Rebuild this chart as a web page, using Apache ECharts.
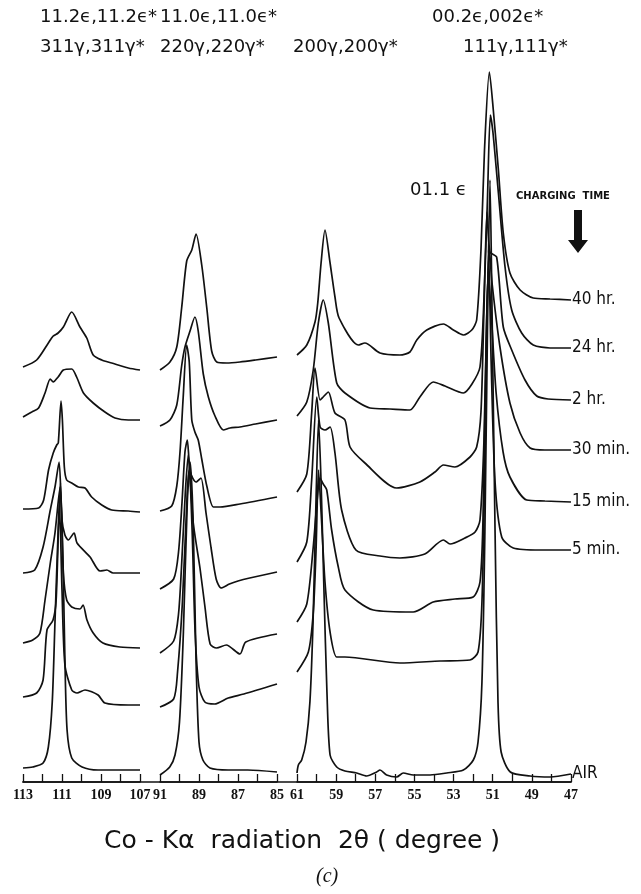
<!DOCTYPE html>
<html><head><meta charset="utf-8">
<script src="https://cdn.jsdelivr.net/npm/echarts@6/dist/echarts.min.js"></script>
<style>html,body{margin:0;padding:0;background:#fff}#c{width:641px;height:894px}</style>
</head><body><div id="c"></div>
<script>
// curve names (charging time)
const curveNames = ['40 hr.','24 hr.','2 hr.','30 min.','15 min.','5 min.','AIR'];
// x segments (2θ, degree)
const seg1Range = [107, 113];
const seg2Range = [85, 91];
const seg3Range = [47, 61];
// peak labels
const topLine1 = ['11.2ϵ,11.2ϵ*', '11.0ϵ,11.0ϵ*', '00.2ϵ,002ϵ*'];
const topLine2 = ['311γ,311γ*', '220γ,220γ*', '200γ,200γ*', '111γ,111γ*'];

// ---- segment 1 : 113 - 107 deg  [2θ, relative intensity (stacked)] ----
const s1_40 = [[113,415],[112.3,422],[111.7,439],[111.45,446],[111.2,449],[110.93,455],[110.5,470],[110.08,455],[109.73,444],[109.4,427],[108.96,422],[108.45,419],[107.6,414],[107,412]];
const s1_24 = [[113,365],[112.55,370],[112.2,374],[111.87,389],[111.6,403],[111.45,400],[111.2,405],[110.93,412],[110.5,413],[110.25,405],[109.9,389],[109.4,379],[108.8,370],[108.28,364],[107.6,362],[107,362]];
const s1_2 = [[113,273],[112.2,274],[111.94,282],[111.69,312],[111.45,329],[111.27,337],[111.19,339],[111.05,381],[110.98,362],[110.88,315],[110.76,302],[110.5,299],[110.16,295],[109.82,294],[109.48,285],[108.96,277],[108.45,272],[107.6,271],[107,270]];
const s1_30 = [[113,209],[112.4,212],[111.97,235],[111.6,272],[111.36,295],[111.15,320],[111.0,262],[110.85,247],[110.68,242],[110.38,249],[110.23,239],[109.56,225],[109.05,211],[108.7,212],[108.38,209],[107,209]];
const s1_15 = [[113,139],[112.5,142],[112.13,149],[111.87,182],[111.6,219],[111.36,249],[111.1,295],[110.93,209],[110.76,182],[110.5,175],[110.08,173],[109.92,177],[109.72,162],[109.4,149],[108.9,139],[108.03,135],[107,134]];
const s1_5 = [[113,85],[112.3,89],[111.97,102],[111.77,152],[111.46,162],[111.3,182],[111.13,277],[111.0,192],[110.85,117],[110.5,92],[110.23,89],[109.82,92],[109.15,87],[108.8,79],[107.6,77],[107,77]];
const s1_air = [[113,14],[112.5,15],[111.97,19],[111.7,35],[111.5,80],[111.36,160],[111.2,250],[111.08,299],[110.95,222],[110.85,122],[110.74,52],[110.5,24],[109.97,15],[109.15,12],[107.6,12],[107,12]];

// ---- segment 2 : 91 - 85 deg ----
const s2_40 = [[91,412],[90.49,420],[90.14,435],[89.89,474],[89.63,521],[89.37,532],[89.15,548],[88.86,517],[88.6,474],[88.35,431],[88.09,420],[87.58,419],[86.9,420],[86.1,422],[85,425]];
const s2_24 = [[91,356],[90.49,362],[90.14,377],[89.89,416],[89.72,435],[89.46,451],[89.21,465],[89.04,451],[88.78,408],[88.52,385],[88.18,366],[87.75,352],[87.41,354],[86.9,355],[86.1,358],[85,362]];
const s2_2 = [[91,271],[90.4,276],[90.14,296],[89.97,331],[89.81,385],[89.63,437],[89.5,420],[89.37,362],[89.21,350],[89.04,342],[88.86,323],[88.6,296],[88.26,275],[87.92,275],[86.9,278],[85,285]];
const s2_30 = [[91,193],[90.3,203],[90.05,230],[89.87,280],[89.72,330],[89.6,342],[89.45,310],[89.15,300],[88.9,304],[88.64,269],[88.38,234],[88.12,203],[87.87,194],[87.44,198],[87,201],[86.4,204],[85,210]];
const s2_15 = [[91,129],[90.3,141],[90.05,168],[89.9,214],[89.7,290],[89.55,327],[89.3,260],[88.95,214],[88.7,176],[88.43,138],[88.1,134],[87.6,137],[86.9,128],[86.6,140],[85,148]];
const s2_5 = [[91,75],[90.3,83],[90.1,110],[89.85,180],[89.6,290],[89.5,312],[89.35,250],[89.2,150],[89.0,95],[88.7,80],[88.2,78],[87.5,84],[86.7,88],[85,98]];
const s2_air = [[91,7],[90.5,15],[90.23,27],[90.0,60],[89.8,150],[89.6,280],[89.45,320],[89.3,260],[89.15,120],[89.0,40],[88.8,22],[88.44,14],[87.5,12],[86.5,12],[85,10]];

// ---- segment 3 : 61 - 47 deg ----
const s3_40 = [[61,427],[60.5,437],[60.08,460],[59.94,479],[59.77,519],[59.57,552],[59.31,519],[59.06,485],[58.85,464],[57.87,437],[57.53,439],[56.76,429],[55.74,427],[55.23,430],[54.88,442],[54.37,452],[53.52,458],[53.01,452],[52.5,447],[52.07,452],[51.82,462],[51.6,532],[51.42,632],[51.17,710],[50.97,672],[50.71,612],[50.46,549],[50.12,509],[49.6,492],[48.93,484],[48.07,483],[47,482]];
const s3_24 = [[61,366],[60.5,380],[60.17,412],[59.91,459],[59.66,482],[59.4,459],[58.97,399],[58.55,389],[57.27,374],[56.25,373],[55.23,372],[54.72,385],[54.04,400],[53.44,396],[52.5,389],[52.06,398],[51.65,415],[51.45,482],[51.27,582],[51.12,667],[50.99,650],[50.71,589],[50.37,515],[50.03,472],[49.52,449],[48.93,437],[48.07,434],[47,434]];
const s3_2 = [[61,290],[60.5,308],[60.25,369],[60.08,414],[59.82,382],[59.66,385],[59.4,390],[59.06,369],[58.55,362],[58.29,335],[57.53,319],[55.91,294],[54.72,300],[53.95,310],[53.52,317],[52.93,315],[52.16,325],[51.82,335],[51.6,370],[51.45,470],[51.29,570],[51.14,530],[50.8,525],[50.46,455],[50.03,432],[49.35,402],[48.75,386],[48.17,383],[47,382]];
const s3_30 = [[61,220],[60.5,240],[60.25,302],[59.99,385],[59.82,355],[59.57,352],[59.31,355],[59.06,329],[58.72,272],[57.99,232],[56.76,226],[55.74,224],[54.47,228],[53.52,242],[53.18,238],[52.42,244],[51.9,250],[51.65,262],[51.45,340],[51.3,470],[51.17,532],[51.04,500],[50.63,435],[50.12,379],[49.6,349],[49.09,334],[48.33,332],[47,332]];
const s3_15 = [[61,160],[60.5,178],[60.17,235],[59.98,280],[59.82,304],[59.66,298],[59.48,292],[59.23,252],[58.89,215],[58.55,192],[57.1,172],[55.06,170],[54.04,180],[52.93,183],[52.0,185],[51.65,200],[51.5,260],[51.37,400],[51.23,510],[51.08,470],[50.83,390],[50.47,330],[50.12,305],[49.26,282],[48.33,281],[47,280]];
const s3_5 = [[61,110],[60.42,130],[60.17,169],[60.03,230],[59.9,312],[59.77,270],[59.57,200],[59.31,150],[58.97,125],[58.55,125],[55.74,119],[53.69,121],[52.16,122],[51.75,130],[51.55,180],[51.4,320],[51.21,532],[51.08,420],[50.88,300],[50.54,245],[49.95,234],[48.58,232],[47,232]];
const s3_air = [[61,9],[60.93,17],[60.76,22],[60.54,40],[60.34,80],[60.18,160],[60.03,280],[59.9,362],[59.77,300],[59.62,190],[59.47,90],[59.31,27],[58.97,15],[58.55,11],[57.95,9],[57.44,6],[56.93,10],[56.76,12],[56.42,7],[55.91,5],[55.57,9],[55.06,7],[54.2,7],[53.35,9],[52.5,12],[51.99,22],[51.75,40],[51.55,100],[51.4,250],[51.25,480],[51.14,602],[51.04,480],[50.88,250],[50.73,80],[50.57,30],[50.1,10],[49.09,6],[48.07,5],[47,8]];

const seg1 = [s1_40, s1_24, s1_2, s1_30, s1_15, s1_5, s1_air];
const seg2 = [s2_40, s2_24, s2_2, s2_30, s2_15, s2_5, s2_air];
const seg3 = [s3_40, s3_24, s3_2, s3_30, s3_15, s3_5, s3_air];

const INK = '#111';
const SANS = "'DejaVu Sans Condensed', 'Liberation Sans', sans-serif";
const chart = echarts.init(document.getElementById('c'), null, {renderer: 'canvas'});
const TOP = 22, H = 760;
const grids = [
  {left: 23, width: 117, top: TOP, height: H},
  {left: 160, width: 117, top: TOP, height: H},
  {left: 297, width: 274, top: TOP, height: H},
  {left: 23, width: 548, top: TOP, height: H}
];
function xAx(i, range) {
  return {
    gridIndex: i, type: 'value', min: range[0], max: range[1], interval: 1, inverse: true,
    axisLine: {show: true, lineStyle: {color: INK, width: 1.5}},
    axisTick: {show: true, inside: true, length: 8, lineStyle: {color: INK, width: 1.3}},
    axisLabel: {show: true, margin: 6, color: INK, fontFamily: 'Liberation Serif', fontWeight: 'bold', fontSize: 14,
      formatter: v => (Math.round(v) % 2 ? String(Math.round(v)) : '')},
    splitLine: {show: false}
  };
}
const xAxes = [xAx(0, seg1Range), xAx(1, seg2Range), xAx(2, seg3Range),
  {gridIndex: 3, type: 'value', min: 0, max: 1, axisLine: {show: true, lineStyle: {color: INK, width: 1.5}},
   axisTick: {show: false}, axisLabel: {show: false}, splitLine: {show: false}}];
const yAxes = [0,1,2,3].map(i => ({gridIndex: i, type: 'value', min: 0, max: H, show: false}));

const series = [];
[seg1, seg2, seg3].forEach((seg, si) => {
  seg.forEach((data, ci) => {
    const s = {
      type: 'line', name: curveNames[ci], xAxisIndex: si, yAxisIndex: si, data: data,
      symbol: 'none', smooth: 0.25, clip: false,
      lineStyle: {color: INK, width: 1.7}, z: 3
    };
    if (si === 2) {
      s.endLabel = {show: true, formatter: curveNames[ci], color: INK, fontFamily: SANS,
        fontSize: 17, align: 'left', verticalAlign: 'middle', offset: [9, 0]};
    }
    series.push(s);
  });
});

const labFont = "'DejaVu Sans', sans-serif";
const graphic = [
  {type: 'text', left: 40, top: 8, style: {text: topLine1[0], font: '18px ' + labFont, fill: INK}},
  {type: 'text', left: 160, top: 8, style: {text: topLine1[1], font: '18px ' + labFont, fill: INK}},
  {type: 'text', left: 432, top: 8, style: {text: topLine1[2], font: '18px ' + labFont, fill: INK}},
  {type: 'text', left: 40, top: 38, style: {text: topLine2[0], font: '18px ' + labFont, fill: INK}},
  {type: 'text', left: 160, top: 38, style: {text: topLine2[1], font: '18px ' + labFont, fill: INK}},
  {type: 'text', left: 293, top: 38, style: {text: topLine2[2], font: '18px ' + labFont, fill: INK}},
  {type: 'text', left: 463, top: 38, style: {text: topLine2[3], font: '18px ' + labFont, fill: INK}},
  {type: 'text', left: 410, top: 181, style: {text: '01.1 ϵ', font: '18px ' + labFont, fill: INK}},
  {type: 'text', left: 516, top: 191, style: {text: 'CHARGING  TIME', font: 'bold 10px ' + labFont, fill: INK}},
  {type: 'polygon', shape: {points: [[574,210],[582,210],[582,240],[588,240],[578,253],[568,240],[574,240]]}, style: {fill: INK}},
  {type: 'text', left: 104, top: 829, style: {text: 'Co - Kα  radiation  2θ ( degree )', font: '25px ' + labFont, fill: INK}},
  {type: 'text', left: 316, top: 867, style: {text: '(c)', font: 'italic 20px Liberation Serif', fill: INK}}
];

chart.setOption({
  animation: false,
  backgroundColor: '#fff',
  grid: grids, xAxis: xAxes, yAxis: yAxes, series: series, graphic: graphic
});
</script></body></html>
